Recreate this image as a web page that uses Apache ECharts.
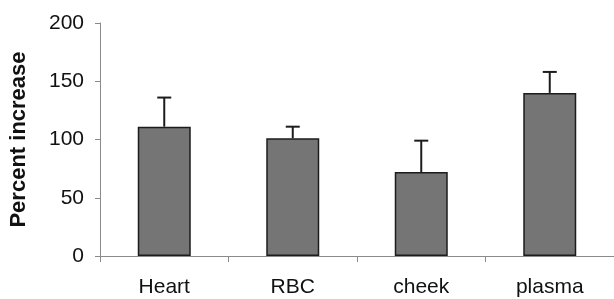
<!DOCTYPE html>
<html>
<head>
<meta charset="utf-8">
<title>Percent increase</title>
<script src="https://cdn.jsdelivr.net/npm/echarts@6/dist/echarts.min.js"></script>
<style>
	html, body { margin: 0; padding: 0; background: #fff; }
	#main { width: 614px; height: 299px; }
</style>
</head>
<body>
<div id="main"></div>
<script>
	// values
	var categories = ['Heart', 'RBC', 'cheek', 'plasma'];
	var means = [111, 101, 72, 140];
	var errorTops = [136, 111, 99, 158];
	var yTicks = [0, 50, 100, 150, 200];

	var chart = echarts.init(document.getElementById('main'));
	var font = 'Liberation Sans, Arial, Helvetica, sans-serif';

	var errData = categories.map(function (c, i) {
		return [i, means[i], errorTops[i]];
	});

	chart.setOption({
		animation: false,
		grid: { left: 99, right: -1, top: 23, bottom: 43 },
		xAxis: {
			type: 'category',
			data: categories,
			axisLine: { lineStyle: { color: '#8a8a8a', width: 1 } },
			axisTick: { show: true, length: 6, lineStyle: { color: '#8a8a8a' } },
			axisLabel: { color: '#111', fontFamily: font, fontSize: 21, margin: 21 }
		},
		yAxis: {
			type: 'value',
			min: yTicks[0],
			max: yTicks[yTicks.length - 1],
			interval: 50,
			name: 'Percent increase',
			nameLocation: 'middle',
			nameGap: 70,
			nameTextStyle: { color: '#111', fontFamily: font, fontSize: 22, fontWeight: 'bold' },
			splitLine: { show: false },
			axisLine: { show: true, lineStyle: { color: '#8a8a8a', width: 1 } },
			axisTick: { show: true, length: 5, lineStyle: { color: '#8a8a8a' } },
			axisLabel: { color: '#111', fontFamily: font, fontSize: 21, margin: 16 }
		},
		series: [
			{
				type: 'bar',
				data: means,
				barWidth: 53,
				itemStyle: { color: '#757575', borderColor: '#1c1c1c', borderWidth: 1.5 }
			},
			{
				type: 'custom',
				data: errData,
				z: 1,
				renderItem: function (params, api) {
					var x = api.value(0);
					var base = api.coord([x, api.value(1)]);
					var top = api.coord([x, api.value(2)]);
					var half = 7;
					return {
						type: 'group',
						children: [
							{ type: 'line', shape: { x1: base[0], y1: base[1], x2: top[0], y2: top[1] },
								style: { stroke: '#1c1c1c', lineWidth: 2 } },
							{ type: 'line', shape: { x1: top[0] - half, y1: top[1], x2: top[0] + half, y2: top[1] },
								style: { stroke: '#1c1c1c', lineWidth: 2 } }
						]
					};
				}
			}
		]
	});
</script>
</body>
</html>
